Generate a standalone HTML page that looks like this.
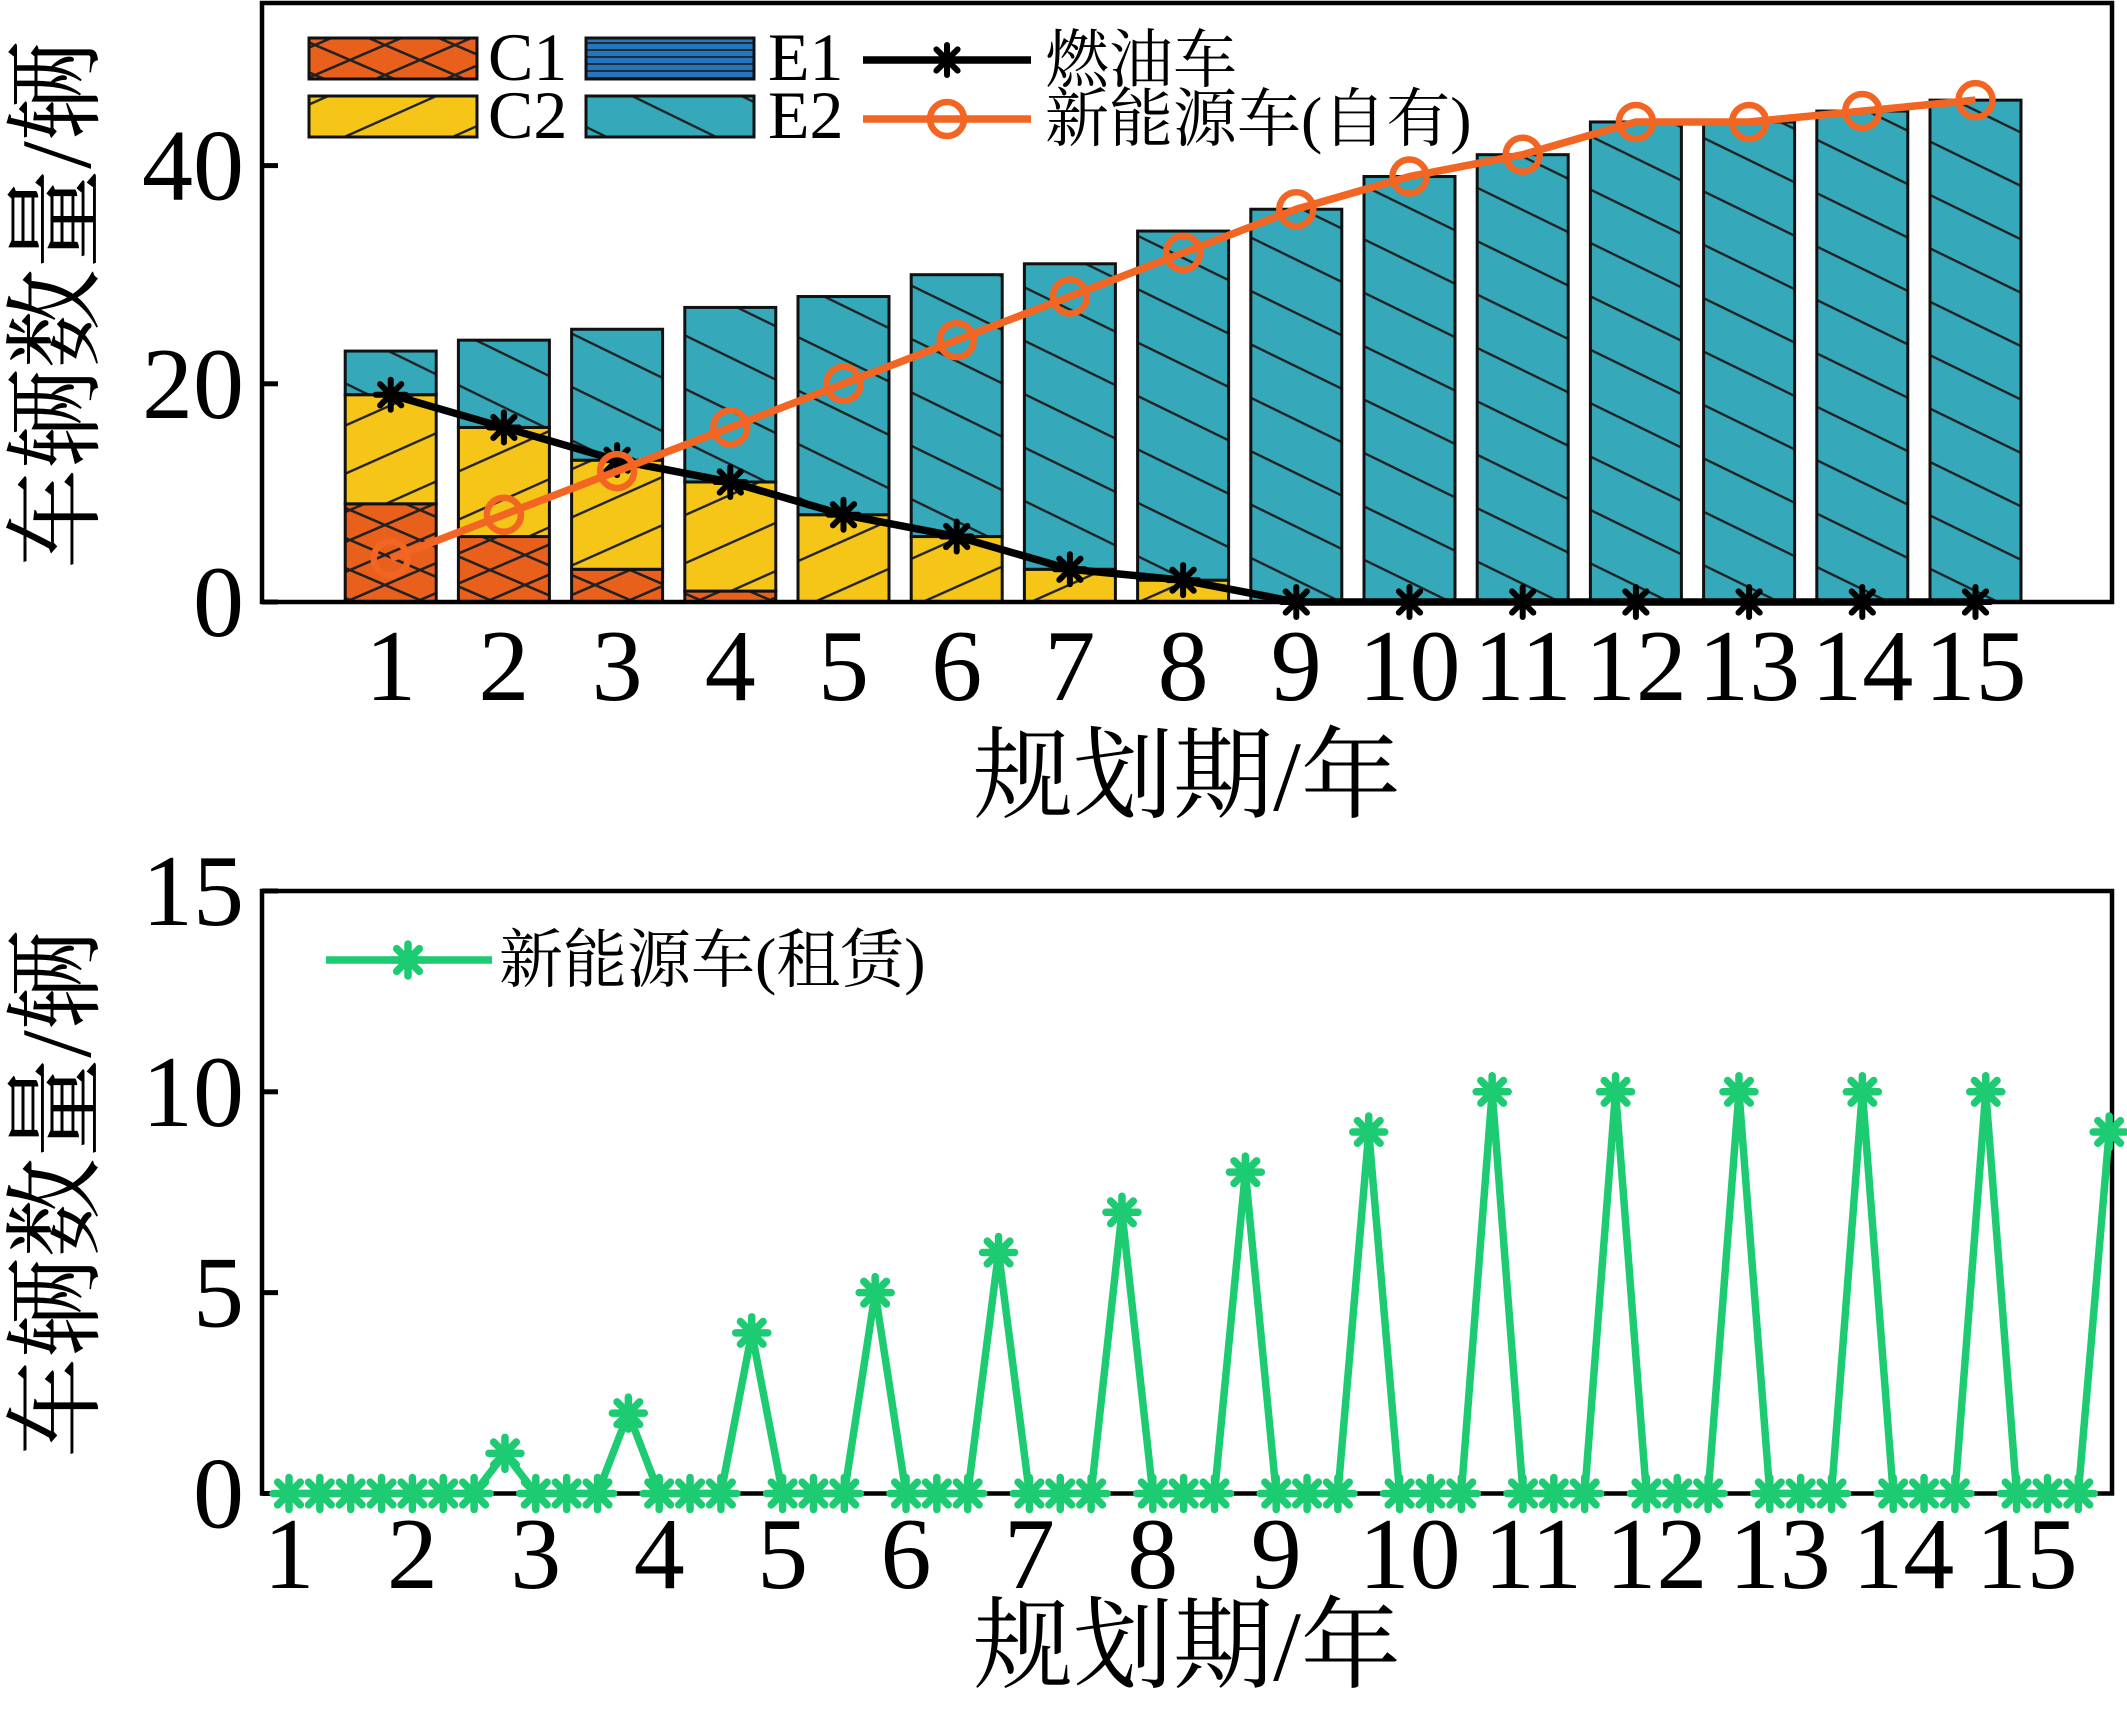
<!DOCTYPE html>
<html><head><meta charset="utf-8"><style>
html,body{margin:0;padding:0;background:#fff;}
svg{display:block;}
text{font-family:"Liberation Serif","Noto Serif CJK SC","Noto Sans CJK SC",serif;fill:#000;}
</style></head><body>
<svg id="chart" xmlns="http://www.w3.org/2000/svg" width="2127" height="1711" viewBox="0 0 2127 1711">
<defs>
<pattern id="hC1" patternUnits="userSpaceOnUse" width="70" height="30">
<rect width="70" height="30" fill="#E8601C"/>
<path d="M-35,-15 L105,45 M-35,15 L105,75 M-35,-45 L105,15 M-35,15 L105,-45 M-35,45 L105,-15 M-35,75 L105,15" stroke="#222" stroke-width="2.6"/>
</pattern>
<pattern id="hC2" patternUnits="userSpaceOnUse" width="200" height="44" patternTransform="rotate(-24)">
<rect x="-10" y="-10" width="220" height="64" fill="#F5C518"/>
<line x1="-10" y1="1" x2="210" y2="1" stroke="#222" stroke-width="2.8"/>
</pattern>
<pattern id="hE1" patternUnits="userSpaceOnUse" width="20" height="7">
<rect width="20" height="7" fill="#2277C0"/>
<line x1="0" y1="1" x2="20" y2="1" stroke="#222" stroke-width="1.8"/>
</pattern>
<pattern id="hE2" patternUnits="userSpaceOnUse" width="200" height="48" patternTransform="rotate(26)">
<rect x="-10" y="-10" width="220" height="68" fill="#35A8BA"/>
<line x1="-10" y1="1" x2="210" y2="1" stroke="#222" stroke-width="2.8"/>
</pattern>
</defs>
<g id="top"></g>
<g id="bottom"></g>
</svg>
<script>
// ---- Top chart data ----
const years = [1,2,3,4,5,6,7,8,9,10,11,12,13,14,15];
const c1Values = [9,6,3,1,0,0,0,0,0,0,0,0,0,0,0];
const c2Values = [10,10,10,10,8,6,3,2,0,0,0,0,0,0,0];
const e1Values = [0,0,0,0,0,0,0,0,0,0,0,0,0,0,0];
const e2Values = [4,8,12,16,20,24,28,32,36,39,41,44,44,45,46];
const fuelValues = [19,16,13,11,8,6,3,2,0,0,0,0,0,0,0];
const nevOwnValues = [4,8,12,16,20,24,28,32,36,39,41,44,44,45,46];
const topYTicks = [0,20,40];
// ---- Bottom chart data ----
const leaseValues = [0,0,0,0,0,0,0,1,0,0,0,2,0,0,0,4,0,0,0,5,0,0,0,6,0,0,0,7,0,0,0,8,0,0,0,9,0,0,0,10,0,0,0,10,0,0,0,10,0,0,0,10,0,0,0,10,0,0,0,9];
const bottomYTicks = [0,5,10,15];
const bottomXLabels = [1,2,3,4,5,6,7,8,9,10,11,12,13,14,15];

const NS = "http://www.w3.org/2000/svg";
function mk(parent, tag, attrs, txt){
  const e = document.createElementNS(NS, tag);
  for (const k in attrs) e.setAttribute(k, attrs[k]);
  if (txt !== undefined) e.textContent = txt;
  parent.appendChild(e);
  return e;
}
const xTop = i => 390.7 + (i - 1) * 113.2;
const yTop = v => 602 - v * 10.91;
const xBot = j => 289 + j * 30.85;
const yBot = v => 1493.5 - v * 40.17;

function star(g, cx, cy, r, color, sw){
  const s = mk(g, 'g', {});
  for (let k = 0; k < 4; k++){
    const a = k * Math.PI / 4;
    mk(s, 'line', {x1: cx - r*Math.cos(a), y1: cy - r*Math.sin(a), x2: cx + r*Math.cos(a), y2: cy + r*Math.sin(a), stroke: color, 'stroke-width': sw, 'stroke-linecap':'round'});
  }
  return s;
}
const TF = 102, TITLE = 100, LEG = 64;

// ===== TOP =====
const T = document.getElementById('top');


const bw = 91;
years.forEach((yr, i) => {
  let base = 0;
  const segs = [[c1Values[i],'hC1','c1'],[c2Values[i],'hC2','c2'],[e1Values[i],'hE1','e1'],[e2Values[i],'hE2','e2']];
  segs.forEach(([v, pat, nm]) => {
    if (v <= 0) return;
    const r = mk(T, 'rect', {x: xTop(yr) - bw/2, y: yTop(base + v), width: bw, height: yTop(base) - yTop(base + v), fill: 'url(#' + pat + ')', stroke: '#111', 'stroke-width': 3});
    
    
    base += v;
  });
});
const fuelLine = mk(T, 'polyline', {points: years.map((y,i)=>xTop(y)+','+yTop(fuelValues[i])).join(' '), fill:'none', stroke:'#000', 'stroke-width':7.5});


years.forEach((y,i)=>{
  const s = star(T, xTop(y), yTop(fuelValues[i]), 15, '#000', 6);
  
  
});
const nevLine = mk(T, 'polyline', {points: years.map((y,i)=>xTop(y)+','+yTop(nevOwnValues[i])).join(' '), fill:'none', stroke:'#F26522', 'stroke-width':7.5});


years.forEach((y,i)=>{
  const c = mk(T, 'circle', {cx: xTop(y), cy: yTop(nevOwnValues[i]), r: 17, fill:'none', stroke:'#F26522', 'stroke-width':6.5});
  
  
});
const tf = mk(T, 'rect', {x:262, y:3, width:1850, height:599, fill:'none', stroke:'#000', 'stroke-width':4.5});


topYTicks.forEach(v=>{
  const tk = mk(T, 'line', {x1:262, x2:278, y1:yTop(v), y2:yTop(v), stroke:'#000', 'stroke-width':5});
  
  
  const t = mk(T, 'text', {x:244, y:yTop(v)+34, 'text-anchor':'end', 'font-size':TF}, String(v));
  
  
});
years.forEach(y=>{
  const t = mk(T, 'text', {x:xTop(y), y:700, 'text-anchor':'middle', 'font-size':TF}, String(y));
  
  
});
const lg = mk(T, 'g', {});


[['hC1',309,38,'C1',488],['hC2',309,96,'C2',488],['hE1',586,38,'E1',768],['hE2',586,96,'E2',768]].forEach(([p,x,y,l,tx])=>{
  const r = mk(lg, 'rect', {x:x, y:y, width:168, height:41, fill:'url(#'+p+')', stroke:'#111', 'stroke-width':3});
  
  
  const t = mk(lg, 'text', {x:tx, y:y+42, 'font-size':68}, l);
  
  
});
mk(lg, 'line', {x1:863, x2:1031, y1:60, y2:60, stroke:'#000', 'stroke-width':7.5});
star(lg, 947, 60, 15, '#000', 6);
const lt1 = mk(lg, 'text', {x:1045, y:82, 'font-size':LEG}, '燃油车');


mk(lg, 'line', {x1:863, x2:1031, y1:119, y2:119, stroke:'#F26522', 'stroke-width':7.5});
mk(lg, 'circle', {cx:947, cy:119, r:17, fill:'none', stroke:'#F26522', 'stroke-width':6.5});
const lt2 = mk(lg, 'text', {x:1045, y:141, 'font-size':LEG}, '新能源车(自有)');


const yl1 = mk(T, 'text', {x:0, y:0, 'font-size':TITLE, 'text-anchor':'middle', transform:'translate(90,305) rotate(-90)'}, '车辆数量/辆');


const xl1 = mk(T, 'text', {x:1187, y:810, 'font-size':TITLE, 'text-anchor':'middle'}, '规划期/年');



// ===== BOTTOM =====
const B = document.getElementById('bottom');


const bf = mk(B, 'rect', {x:262, y:891, width:1850, height:602.5, fill:'none', stroke:'#000', 'stroke-width':4.5});


bottomYTicks.forEach(v=>{
  const tk = mk(B, 'line', {x1:262, x2:278, y1:yBot(v), y2:yBot(v), stroke:'#000', 'stroke-width':5});
  
  
  const t = mk(B, 'text', {x:244, y:yBot(v)+34, 'text-anchor':'end', 'font-size':TF}, String(v));
  
  
});
bottomXLabels.forEach((l,i)=>{
  const x = xBot(4*i);
  const tk = mk(B, 'line', {x1:x, x2:x, y1:1493.5, y2:1479, stroke:'#000', 'stroke-width':5});
  
  
  const t = mk(B, 'text', {x:x + (i>=9 ? 10 : 0), y:1588, 'text-anchor':'middle', 'font-size':TF}, String(l));
  
  
});
const gl = mk(B, 'polyline', {points: leaseValues.map((v,j)=>xBot(j)+','+yBot(v)).join(' '), fill:'none', stroke:'#1DCB72', 'stroke-width':7.5, 'stroke-linejoin':'round'});


leaseValues.forEach((v,j)=>{
  const s = star(B, xBot(j), yBot(v), 16, '#1DCB72', 7.5);
  
  
});
const lg2 = mk(B, 'g', {});


mk(lg2, 'line', {x1:326, x2:492, y1:960, y2:960, stroke:'#1DCB72', 'stroke-width':7.5});
star(lg2, 408, 960, 16, '#1DCB72', 7.5);
const lt3 = mk(lg2, 'text', {x:499, y:982, 'font-size':LEG}, '新能源车(租赁)');


const yl2 = mk(B, 'text', {x:0, y:0, 'font-size':TITLE, 'text-anchor':'middle', transform:'translate(90,1194) rotate(-90)'}, '车辆数量/辆');


const xl2 = mk(B, 'text', {x:1187, y:1680, 'font-size':TITLE, 'text-anchor':'middle'}, '规划期/年');


</script>
</body></html>
